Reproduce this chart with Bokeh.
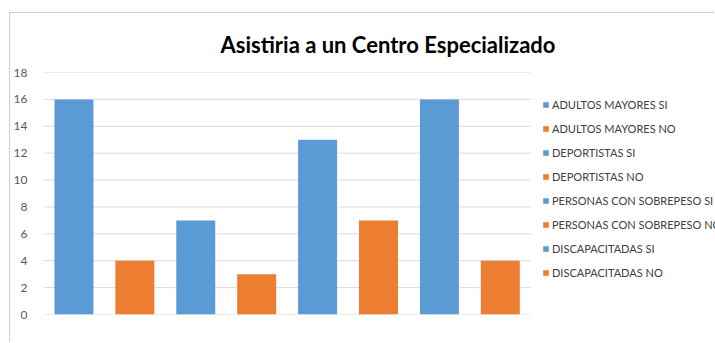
from bokeh.plotting import figure
from bokeh.models import Range1d, Legend, LegendItem, FixedTicker, ColumnDataSource
from bokeh.embed import file_html
from bokeh.resources import INLINE

categories = ["ADULTOS MAYORES SI", "ADULTOS MAYORES NO", "DEPORTISTAS SI", "DEPORTISTAS NO",
              "PERSONAS CON SOBREPESO SI", "PERSONAS CON SOBREPESO NO", "DISCAPACITADAS SI", "DISCAPACITADAS NO"]
values = [16, 4, 7, 3, 13, 7, 16, 4]
colors = ["#5B9BD5", "#ED7D31"] * 4
y_ticks = [0, 2, 4, 6, 8, 10, 12, 14, 16, 18]
title = "Asistiria a un Centro Especializado"

FONT = "Lato"
n = len(categories)
xpos = list(range(n))
# frame spans the plot area plus the legend area to the right (legend is drawn inside the frame)
x_end = -0.5 + n * 673 / 488

p = figure(x_range=Range1d(-0.5, x_end), y_range=Range1d(0, 18),
           width=705, height=330, output_backend="svg", toolbar_location=None,
           min_border_left=32, min_border_right=0, min_border_top=59, min_border_bottom=29,
           margin=(12, 0, 0, 9),
           styles={"border-left": "1px solid #d0d0d0", "border-top": "1px solid #d0d0d0"})
p.outline_line_color = None
p.background_fill_color = "white"
p.border_fill_color = "white"

# horizontal gridlines only across the bar area
p.segment(x0=[-0.5] * len(y_ticks), x1=[n - 0.5] * len(y_ticks), y0=y_ticks, y1=y_ticks,
          line_color="#d9d9d9", line_width=1)

src = ColumnDataSource(dict(x=xpos, cat=categories, val=values, col=colors))
r = p.vbar(x="x", top="val", width=0.64, fill_color="col", line_color=None, source=src)

p.title.text = title
p.title.text_font = FONT
p.title.text_font_size = "22px"
p.title.text_font_style = "bold"
p.title.text_color = "#000000"
p.title.align = "left"
p.title.offset = 177
p.title.standoff = 29

p.xaxis.visible = False
p.xgrid.visible = False
p.ygrid.visible = False
p.yaxis.ticker = FixedTicker(ticks=y_ticks)
p.yaxis.axis_line_color = None
p.yaxis.major_tick_line_color = None
p.yaxis.minor_tick_line_color = None
p.yaxis.major_label_text_font = FONT
p.yaxis.major_label_text_font_size = "12px"
p.yaxis.major_label_text_color = "#595959"
p.yaxis.major_label_standoff = 10

items = [LegendItem(label=c, renderers=[r], index=i) for i, c in enumerate(categories)]
legend = Legend(items=items, location=(499, 35), orientation="vertical",
                glyph_width=7, glyph_height=7, label_height=14, label_standoff=3,
                spacing=10, padding=0, margin=0, background_fill_alpha=0,
                border_line_color=None, label_text_font=FONT, label_text_font_size="11px",
                label_text_color="#404040")
p.add_layout(legend, "center")

open("out.html", "w").write(file_html(p, INLINE))
